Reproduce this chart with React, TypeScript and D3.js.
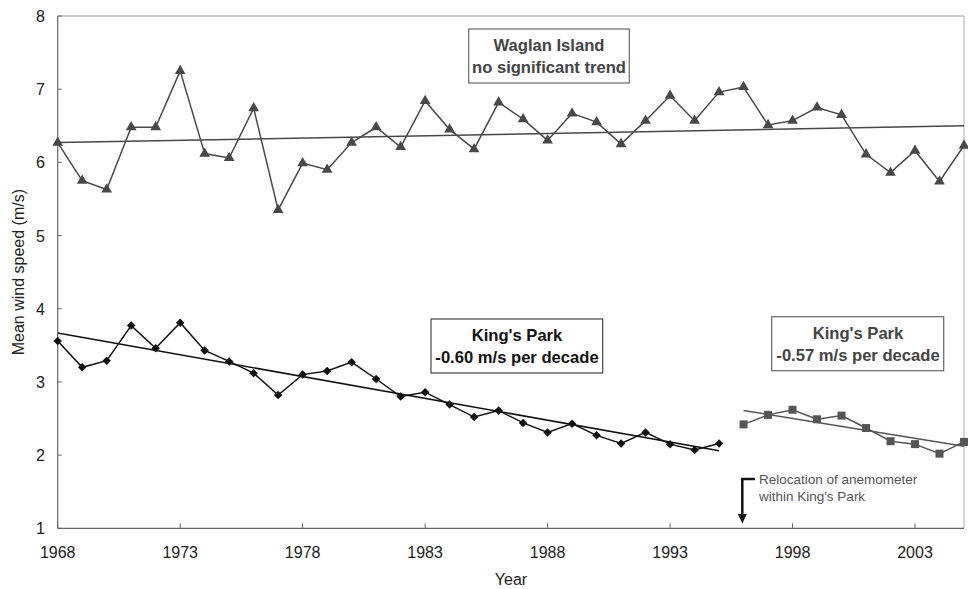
import React from "react";
import * as d3 from "d3";

const years1 = d3.range(1968, 1996);
const waglanYears = d3.range(1968, 2006);
const waglan = [6.27, 5.75, 5.63, 6.48, 6.48, 7.25, 6.12, 6.06, 6.74, 5.35, 5.99, 5.9, 6.27, 6.48, 6.21, 6.84, 6.45, 6.18, 6.82, 6.59, 6.3, 6.67, 6.55, 6.25, 6.57, 6.91, 6.57, 6.96, 7.03, 6.51, 6.57, 6.75, 6.65, 6.11, 5.86, 6.16, 5.74, 6.23];
const kings1 = [3.56, 3.2, 3.29, 3.77, 3.46, 3.81, 3.43, 3.28, 3.12, 2.82, 3.1, 3.15, 3.27, 3.04, 2.8, 2.86, 2.69, 2.52, 2.61, 2.44, 2.31, 2.43, 2.27, 2.16, 2.31, 2.15, 2.07, 2.16];
const years2 = d3.range(1996, 2006);
const kings2 = [2.42, 2.55, 2.62, 2.49, 2.54, 2.37, 2.19, 2.15, 2.02, 2.18];

const trendWaglanX = [1968, 2005];
const trendWaglanY = [6.27, 6.5];
const trendKings1X = [1968, 1995];
const trendKings1Y = [3.67, 2.06];
const trendKings2X = [1996, 2005];
const trendKings2Y = [2.61, 2.12];

const xTicks = [1968, 1973, 1978, 1983, 1988, 1993, 1998, 2003];
const yTicks = [1, 2, 3, 4, 5, 6, 7, 8];

const W = 968, H = 589;
const M = { left: 57.7, right: 964, top: 16, bottom: 528.3 };
const FONT = "Arial, 'Liberation Sans', sans-serif";

export default function App() {
  const x = d3.scaleLinear().domain([1968, 2005]).range([M.left, M.right]);
  const y = d3.scaleLinear().domain([1, 8]).range([M.bottom, M.top]);
  const line = d3.line<[number, number]>().x((d) => x(d[0])).y((d) => y(d[1]));
  const zip = (a: number[], b: number[]) => a.map((v, i) => [v, b[i]] as [number, number]);

  const tri = d3.symbol().type(d3.symbolTriangle).size(50)()!;
  const dia = d3.symbol().type(d3.symbolSquare).size(36)()!;
  const sq = d3.symbol().type(d3.symbolSquare).size(64)()!;

  const gW = "#484848";
  const gK = "#111";
  const gS = "#555";

  return (
    <div style={{ position: "absolute", left: 0, top: 0 }}>
      <svg width={W} height={H} style={{ display: "block", background: "#fff" }} fontFamily={FONT}>
        <rect width={W} height={H} fill="#fff" />
        {/* frame */}
        <line x1={M.left} x2={M.right} y1={M.top} y2={M.top} stroke="#999" strokeWidth={1} />
        <line x1={M.right} x2={M.right} y1={M.top} y2={M.bottom} stroke="#bbb" strokeWidth={1.2} />
        <line x1={M.left} x2={M.left} y1={M.top} y2={M.bottom} stroke="#666" strokeWidth={1.2} />
        <line x1={M.left} x2={M.right} y1={M.bottom} y2={M.bottom} stroke="#666" strokeWidth={1.2} />
        {xTicks.map((t) => (
          <g key={t}>
            <line x1={x(t)} x2={x(t)} y1={M.bottom} y2={M.bottom - 5} stroke="#666" />
            <text x={x(t)} y={558} textAnchor="middle" fontSize={16} fill="#222">{t}</text>
          </g>
        ))}
        {yTicks.map((t) => (
          <g key={t}>
            <line x1={M.left} x2={M.left + 4} y1={y(t)} y2={y(t)} stroke="#666" />
            <text x={45} y={y(t) + 6} textAnchor="end" fontSize={16} fill="#222">{t}</text>
          </g>
        ))}
        <text x={511} y={585} textAnchor="middle" fontSize={16} fill="#222">Year</text>
        <text transform={`translate(24,${(M.top + M.bottom) / 2}) rotate(-90)`} textAnchor="middle" fontSize={16} fill="#222">Mean wind speed (m/s)</text>

        {/* Waglan */}
        <path d={line(zip(trendWaglanX, trendWaglanY))!} fill="none" stroke={gW} strokeWidth={1.5} />
        <path d={line(zip(waglanYears, waglan))!} fill="none" stroke={gW} strokeWidth={1.5} />
        {waglan.map((v, i) => (
          <path key={i} d={tri} transform={`translate(${x(waglanYears[i])},${y(v)})`} fill={gW} />
        ))}

        {/* King's Park 1 */}
        <path d={line(zip(trendKings1X, trendKings1Y))!} fill="none" stroke={gK} strokeWidth={1.5} />
        <path d={line(zip(years1, kings1))!} fill="none" stroke={gK} strokeWidth={1.5} />
        {kings1.map((v, i) => (
          <path key={i} d={dia} transform={`translate(${x(years1[i])},${y(v)}) rotate(45)`} fill={gK} />
        ))}

        {/* King's Park 2 */}
        <path d={line(zip(trendKings2X, trendKings2Y))!} fill="none" stroke={gS} strokeWidth={1.5} />
        <path d={line(zip(years2, kings2))!} fill="none" stroke={gS} strokeWidth={1.5} />
        {kings2.map((v, i) => (
          <path key={i} d={sq} transform={`translate(${x(years2[i])},${y(v)})`} fill={gS} />
        ))}

        {/* boxes */}
        <rect x={468.7} y={29} width={160.6} height={54} fill="#fff" stroke="#666" strokeWidth={1.2} />
        <text x={549} y={51} textAnchor="middle" fontSize={16.6} fontWeight="bold" fill="#444">Waglan Island</text>
        <text x={549} y={73} textAnchor="middle" fontSize={16.6} fontWeight="bold" fill="#444">no significant trend</text>

        <rect x={431} y={319} width={171.7} height={54} fill="#fff" stroke="#444" strokeWidth={1.2} />
        <text x={517} y={341} textAnchor="middle" fontSize={16.6} fontWeight="bold" fill="#111">King's Park</text>
        <text x={517} y={363} textAnchor="middle" fontSize={16.6} fontWeight="bold" fill="#111">-0.60 m/s per decade</text>

        <rect x={771.7} y={316.7} width={172} height={54} fill="#fff" stroke="#666" strokeWidth={1.2} />
        <text x={858} y={339} textAnchor="middle" fontSize={16.6} fontWeight="bold" fill="#444">King's Park</text>
        <text x={858} y={361} textAnchor="middle" fontSize={16.6} fontWeight="bold" fill="#444">-0.57 m/s per decade</text>

        {/* relocation annotation */}
        <path d="M755,479 H742.3 V516" fill="none" stroke="#111" strokeWidth={2.5} />
        <path d="M737.8,514 L746.8,514 L742.3,523.5 Z" fill="#111" />
        <text x={759} y={484} fontSize={13.5} fill="#555">Relocation of anemometer</text>
        <text x={759} y={501} fontSize={13.5} fill="#555">within King's Park</text>
      </svg>
    </div>
  );
}
